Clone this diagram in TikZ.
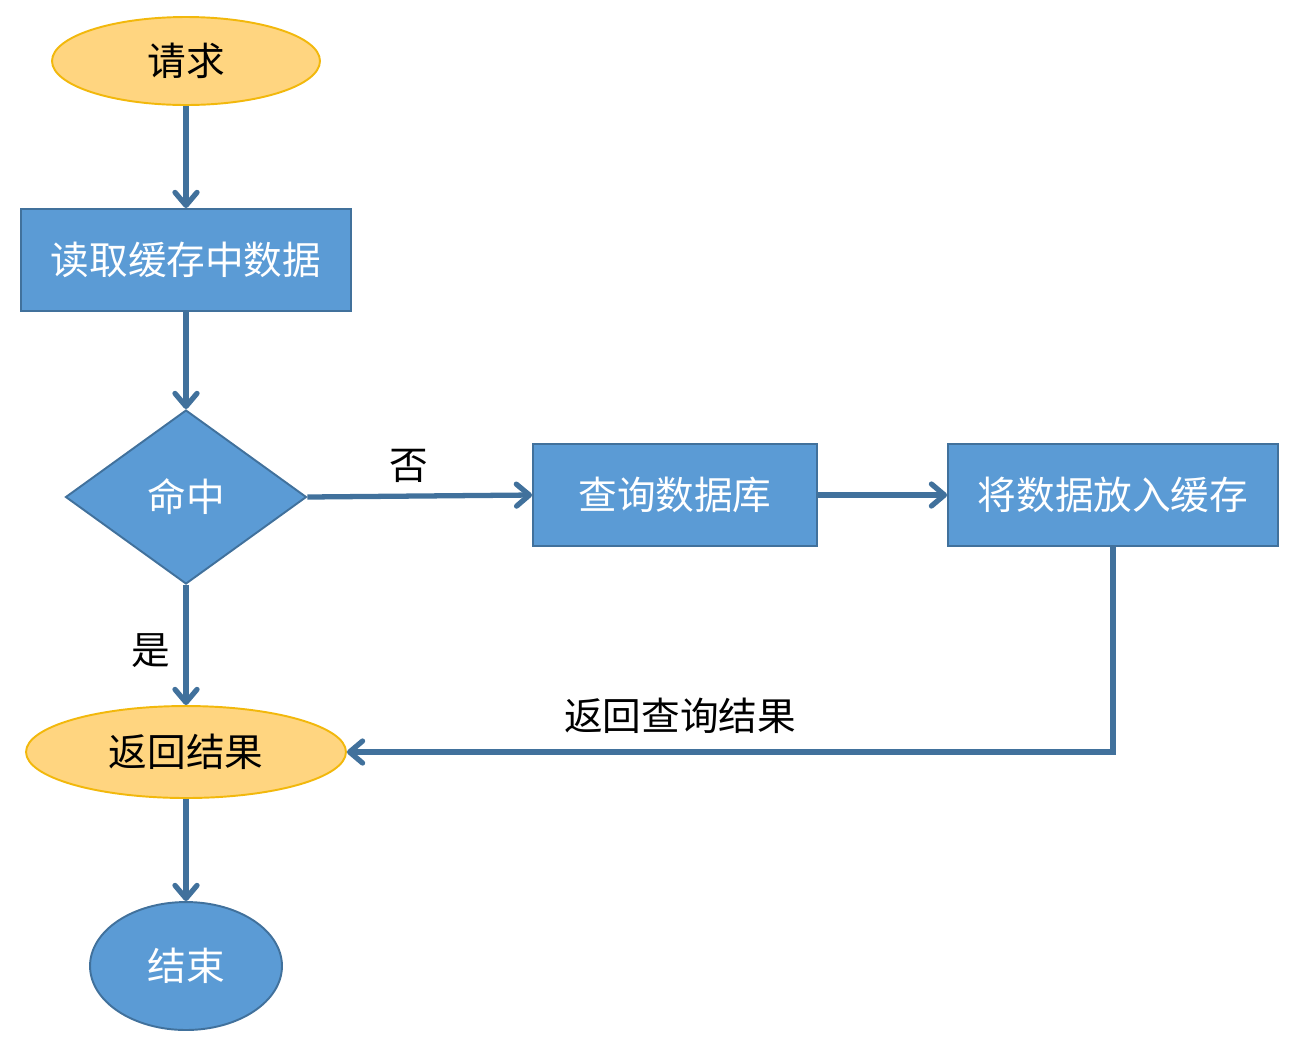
\documentclass[tikz,border=0pt]{standalone}
\usepackage{fontspec}
\newfontfamily\cjk{Noto Sans CJK SC}
\usetikzlibrary{shapes.geometric,arrows.meta}
\definecolor{boxfill}{HTML}{5B9BD5}
\definecolor{boxline}{HTML}{41719C}
\definecolor{ovalfill}{HTML}{FFD580}
\definecolor{ovalline}{HTML}{F2B80C}
\definecolor{flow}{HTML}{41719C}
\begin{document}
\begin{tikzpicture}[x=0.02cm, y=-0.02cm,
    every node/.style={font=\cjk\fontsize{22}{26}\selectfont},
    procbox/.style={rectangle, fill=boxfill, draw=boxline, line width=1.1pt,
        text=white, minimum height=2.04cm, inner sep=0pt},
    startoval/.style={ellipse, fill=ovalfill, draw=ovalline, line width=1.1pt,
        inner sep=0pt},
    decide/.style={diamond, fill=boxfill, draw=boxline, line width=1.1pt,
        text=white, inner sep=0pt, minimum width=4.82cm, minimum height=3.48cm},
    flowline/.style={draw=flow, line width=3pt,
        -{Straight Barb[length=0.26cm, width=0.44cm, round]}}]
    \useasboundingbox (0,0) rectangle (1300,1056);

    % Main column
    \node[startoval, minimum width=5.36cm, minimum height=1.76cm] (request) at (186,61) {请求};
    \node[procbox, minimum width=6.6cm] (readcache) at (186,260) {读取缓存中数据};
    \node[decide] (hit) at (186,497) {命中};
    \node[startoval, minimum width=6.4cm, minimum height=1.84cm] (result) at (186,752) {返回结果};
    \node[ellipse, fill=boxfill, draw=boxline, line width=1.1pt, text=white,
        inner sep=0pt, minimum width=3.84cm, minimum height=2.56cm] (finish) at (186,966) {结束};

    % Miss branch
    \node[procbox, minimum width=5.68cm] (querydb) at (675,495) {查询数据库};
    \node[procbox, minimum width=6.6cm] (store) at (1113,495) {将数据放入缓存};

    % Labels
    \node (nolabel) at (409,466) {否};
    \node (yeslabel) at (151,651) {是};
    \node (backlabel) at (680,716) {返回查询结果};

    % Connectors
    \draw[flowline] (request) -- (readcache);
    \draw[flowline] (readcache) -- (hit);
    \draw[flowline] (hit) -- (result);
    \draw[flowline] (result) -- (finish);
    \draw[flowline] (hit.east) -- (querydb.west);
    \draw[flowline] (querydb) -- (store);
    \draw[flowline] (store.south) |- (result.east);
\end{tikzpicture}
\end{document}
